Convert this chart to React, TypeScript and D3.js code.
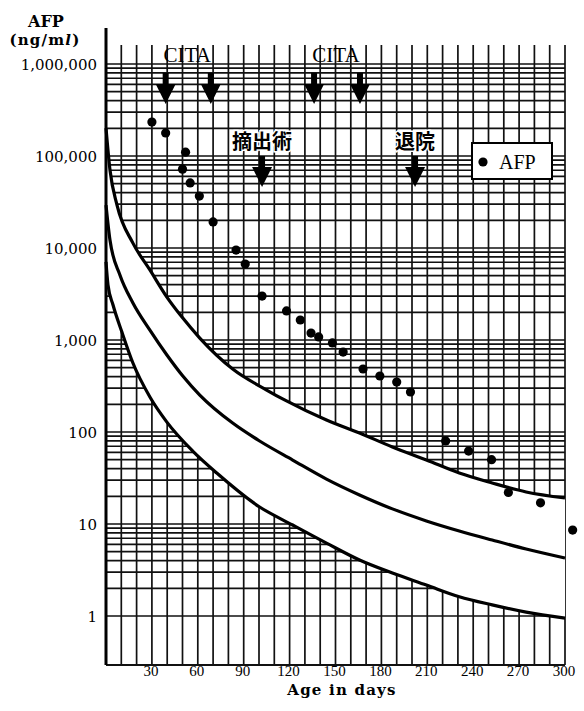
import React, { useEffect, useRef } from 'react';
import * as d3 from 'd3';

// AFP measurements (age in days, ng/ml)
const afpDays = [30, 39, 52, 50, 55, 61, 70, 85, 91, 102, 118, 127, 134, 139, 148, 155, 168, 179, 190, 199, 222, 237, 252, 263, 284, 305];
const afpValues = [234000, 178000, 110000, 72000, 51000, 36700, 19200, 9500, 6700, 3000, 2070, 1650, 1190, 1080, 930, 740, 484, 406, 349, 272, 80, 62, 50, 22, 17, 8.6];

// reference band (upper / middle / lower curves)
const upperDays = [0, 2.6, 7.2, 17.6, 28.7, 39.8, 50.2, 61.3, 82.8, 105, 116.7, 144.1, 165.7, 187.2, 209.4, 230.9, 252.4, 274.6, 300];
const upperValues = [201000, 70500, 29300, 11300, 5770, 2930, 1730, 1050, 484, 286, 223, 135, 97.5, 68.7, 49.7, 35.8, 27.9, 22.3, 19.2];
const middleDays = [0, 2.6, 9.1, 17.6, 28.7, 39.8, 50.2, 61.3, 82.8, 100.4, 122, 144.1, 165.7, 187.2, 209.4, 230.9, 252.4, 274.6, 300];
const middleValues = [29300, 12200, 5100, 2530, 1280, 687, 406, 252, 125, 79.8, 49.6, 30.8, 20.7, 14.6, 10.8, 8.4, 6.7, 5.35, 4.27];
const lowerDays = [0, 1.3, 4.6, 10.4, 17.6, 28.7, 39.8, 56.7, 72.4, 100.4, 122, 144.1, 165.7, 187.2, 209.4, 230.9, 252.4, 274.6, 300];
const lowerValues = [7050, 3960, 2400, 1220, 562, 240, 128, 62, 35.8, 15.3, 9.75, 6.2, 4.06, 2.93, 2.17, 1.62, 1.32, 1.1, 0.95];

const yTickValues = [1, 10, 100, 1000, 10000, 100000, 1000000];
const yTickLabels = ['1', '10', '100', '1,000', '10,000', '100,000', '1,000,000'];
const xTickValues = [30, 60, 90, 120, 150, 180, 210, 240, 270, 300];

const citaDays = [[39, 68.5], [136, 166]];
const eventLabels = ['摘出術', '退院'];
const eventDays = [102, 202];

const App = () => {
  const svgRef = useRef(null);

  useEffect(() => {
    const svg = d3.select(svgRef.current);
    svg.selectAll('*').remove();

    const plot = { left: 106, right: 565, top: 45, bottom: 665 };
    const serif = '"Liberation Serif", "Times New Roman", serif';
    const wideSerif = '"DejaVu Serif", serif';

    const x = d3.scaleLinear().domain([0, 300]).range([plot.left, plot.right]);
    const y = d3.scaleLog().domain([1, 1e6]).range([616, 64]);

    const zip = (a, b) => a.map((d, i) => [d, b[i]]);
    const upper = zip(upperDays, upperValues);
    const middle = zip(middleDays, middleValues);
    const lower = zip(lowerDays, lowerValues);

    // graph paper
    const grid = svg.append('g').attr('stroke', '#111').attr('stroke-width', 1.7);
    grid.selectAll('.hline')
      .data(y.ticks())
      .enter().append('line')
      .attr('x1', plot.left).attr('x2', plot.right)
      .attr('y1', d => y(d)).attr('y2', d => y(d));
    grid.selectAll('.vline')
      .data(d3.range(10, 301, 10))
      .enter().append('line')
      .attr('x1', d => x(d)).attr('x2', d => x(d))
      .attr('y1', plot.top).attr('y2', plot.bottom);
    grid.append('line')
      .attr('x1', plot.left).attr('x2', plot.right)
      .attr('y1', plot.bottom).attr('y2', plot.bottom)
      .attr('stroke-width', 2.2);

    // white band between upper and lower curves
    const clipArea = d3.area()
      .x(d => x(d[0]))
      .y0(0)
      .y1(d => y(d[1]))
      .curve(d3.curveMonotoneX);
    svg.append('clipPath').attr('id', 'aboveLower')
      .append('path').attr('d', clipArea(lower));
    const bandArea = d3.area()
      .x(d => x(d[0]))
      .y0(plot.bottom)
      .y1(d => y(d[1]))
      .curve(d3.curveMonotoneX);
    svg.append('path')
      .attr('d', bandArea(upper))
      .attr('fill', '#fff')
      .attr('clip-path', 'url(#aboveLower)');

    const line = d3.line()
      .x(d => x(d[0]))
      .y(d => y(d[1]))
      .curve(d3.curveMonotoneX);
    [upper, middle, lower].forEach(c => {
      svg.append('path')
        .attr('d', line(c))
        .attr('fill', 'none')
        .attr('stroke', '#000')
        .attr('stroke-width', 3.2);
    });

    // left axis
    svg.append('line')
      .attr('x1', plot.left).attr('x2', plot.left)
      .attr('y1', 28).attr('y2', plot.bottom)
      .attr('stroke', '#000').attr('stroke-width', 3);

    // y tick labels
    svg.selectAll('.ylab')
      .data(yTickValues)
      .enter().append('text')
      .attr('x', 97)
      .attr('y', d => y(d) + 6)
      .attr('text-anchor', 'end')
      .style('font-family', wideSerif)
      .style('font-size', '15px')
      .text((d, i) => yTickLabels[i]);

    // x tick labels
    svg.selectAll('.xlab')
      .data(xTickValues)
      .enter().append('text')
      .attr('x', d => x(d) - 1)
      .attr('y', 676)
      .attr('text-anchor', 'middle')
      .style('font-family', serif)
      .style('font-size', '15px')
      .text(d => d);

    svg.append('text')
      .attr('x', 342).attr('y', 695)
      .attr('text-anchor', 'middle')
      .style('font-family', wideSerif)
      .style('font-size', '15px')
      .style('font-weight', 'bold')
      .style('letter-spacing', '1.2px')
      .text('Age in days');

    // y title
    svg.append('text')
      .attr('x', 46).attr('y', 27)
      .attr('text-anchor', 'middle')
      .style('font-family', wideSerif)
      .style('font-size', '16px')
      .style('font-weight', 'bold')
      .text('AFP');
    const unit = svg.append('text')
      .attr('x', 45).attr('y', 45)
      .attr('text-anchor', 'middle')
      .style('font-family', wideSerif)
      .style('font-size', '15px')
      .style('font-weight', 'bold')
      .style('letter-spacing', '1.2px');
    unit.append('tspan').text('(ng/m');
    unit.append('tspan').style('font-style', 'italic').text('l');
    unit.append('tspan').text(')');

    // arrows
    const arrow = (cx, top, tip) => {
      const h = 20;
      return `M${cx - 3},${top}L${cx + 3},${top}L${cx + 3},${tip - h}L${cx + 10},${tip - h}L${cx},${tip}L${cx - 10},${tip - h}L${cx - 3},${tip - h}Z`;
    };
    citaDays.forEach(pair => {
      pair.forEach(d => {
        svg.append('path').attr('d', arrow(x(d), 73, 104)).attr('fill', '#000');
      });
      svg.append('text')
        .attr('x', (x(pair[0]) + x(pair[1])) / 2 - 1)
        .attr('y', 62)
        .attr('text-anchor', 'middle')
        .style('font-family', serif)
        .style('font-size', '21px')
        .text('CITA');
    });
    eventDays.forEach((d, i) => {
      svg.append('path').attr('d', arrow(x(d), 156, 187)).attr('fill', '#000');
      svg.append('text')
        .attr('x', x(d))
        .attr('y', 149)
        .attr('text-anchor', 'middle')
        .style('font-family', '"Noto Sans CJK JP", sans-serif')
        .style('font-size', '20px')
        .style('font-weight', 'bold')
        .attr('stroke', '#fff')
        .attr('stroke-width', 3)
        .attr('paint-order', 'stroke')
        .text(eventLabels[i]);
    });

    // data points
    svg.selectAll('.dot')
      .data(zip(afpDays, afpValues))
      .enter().append('circle')
      .attr('cx', d => x(d[0]))
      .attr('cy', d => y(d[1]))
      .attr('r', 4.6)
      .attr('fill', '#000');

    // legend
    const legend = svg.append('g').attr('transform', 'translate(472,143)');
    legend.append('rect')
      .attr('width', 80).attr('height', 36)
      .attr('fill', '#fff').attr('stroke', '#000').attr('stroke-width', 2);
    legend.append('circle').attr('cx', 11).attr('cy', 19).attr('r', 4.6).attr('fill', '#000');
    legend.append('text')
      .attr('x', 27).attr('y', 26)
      .style('font-family', serif)
      .style('font-size', '20px')
      .text('AFP');
  }, []);

  return (
    <svg ref={svgRef} width={584} height={711}
      style={{ position: 'absolute', left: 0, top: 0, background: '#fff' }} />
  );
};

export default App;
